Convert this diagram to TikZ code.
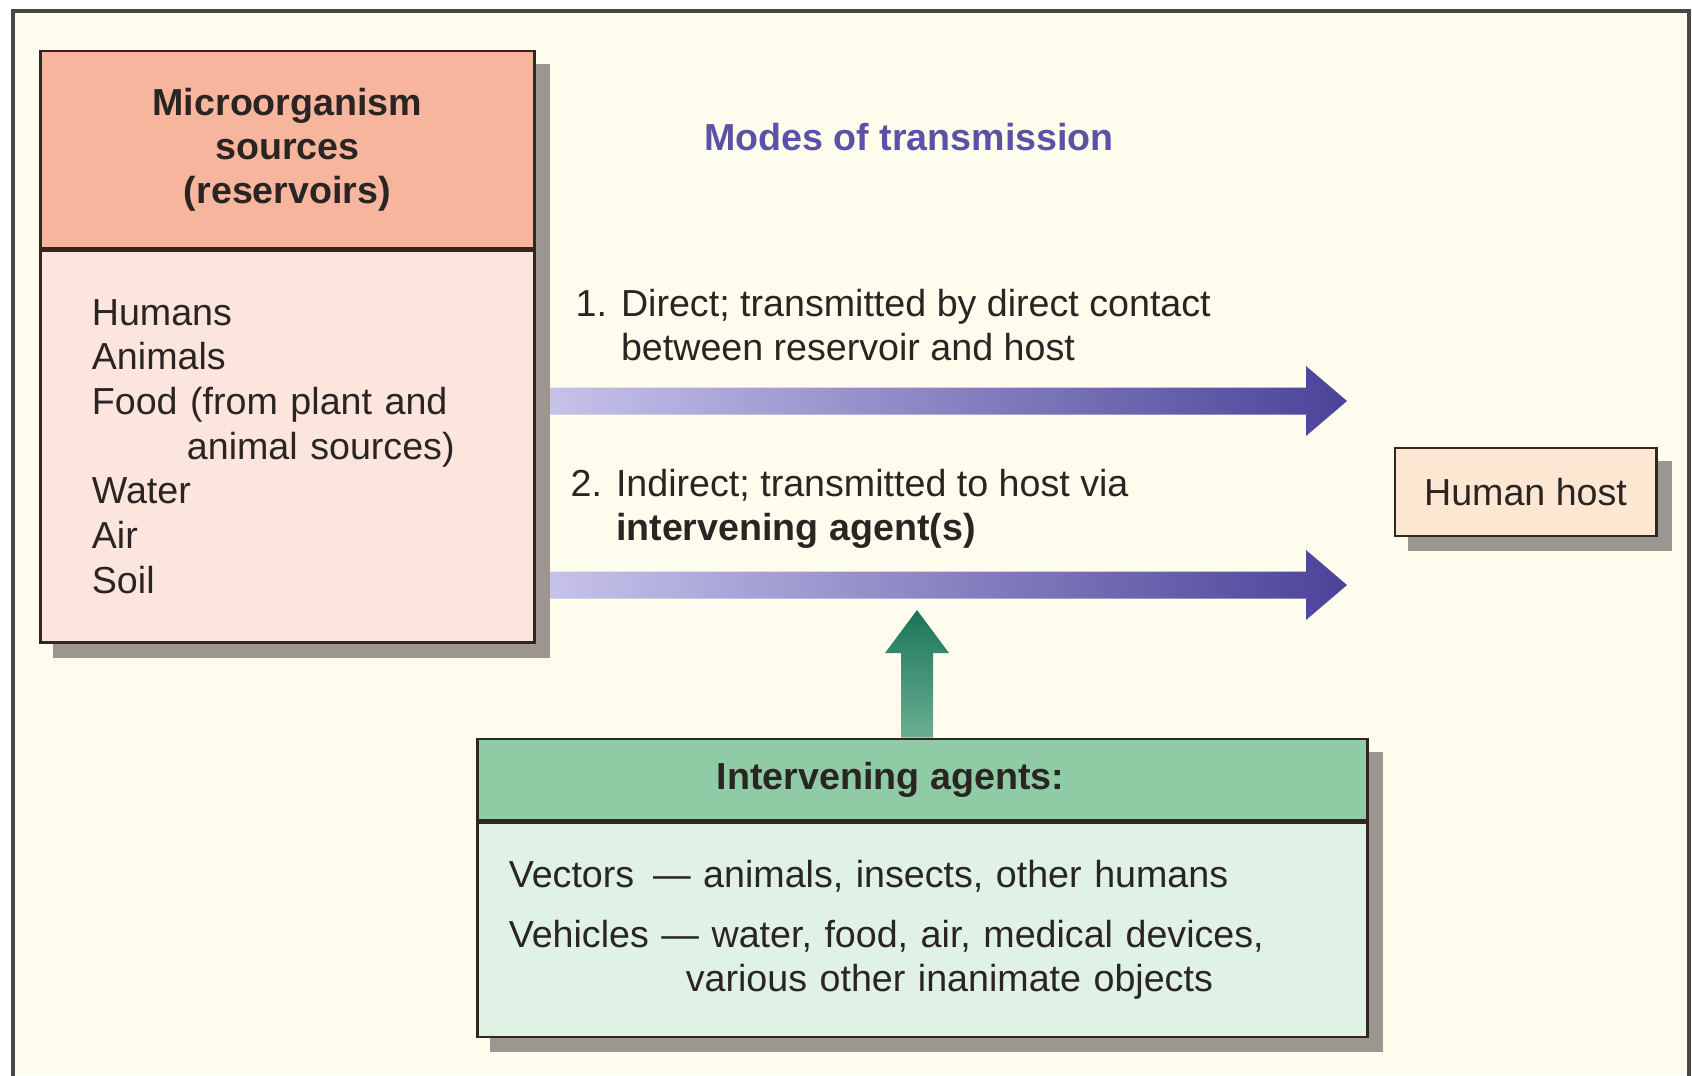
\documentclass[tikz,border=0pt]{standalone}
\usepackage{fontspec}
\setmainfont{Liberation Sans}
\usetikzlibrary{positioning,calc,backgrounds}

\definecolor{paper}{HTML}{FEFCEC}
\definecolor{frameline}{HTML}{4A4744}
\definecolor{boxline}{HTML}{33261F}
\definecolor{textdark}{HTML}{2A2522}
\definecolor{shadowgrey}{HTML}{9D958F}
\definecolor{srctop}{HTML}{F6B59C}
\definecolor{srcfill}{HTML}{FCE5DC}
\definecolor{hostfill}{HTML}{FDE7D3}
\definecolor{agttop}{HTML}{8FCBA5}
\definecolor{agtfill}{HTML}{E0F1E6}
\definecolor{modeblue}{HTML}{5A52A6}
\definecolor{arrowlight}{HTML}{C6C2EA}
\definecolor{arrowdark}{HTML}{4B4399}
\definecolor{greendark}{HTML}{1B7559}
\definecolor{greenlight}{HTML}{6AAF93}

\begin{document}
\begin{tikzpicture}[x=0.01cm, y=-0.01cm,
    every node/.style={font=\fontsize{10.7}{12.5}\selectfont, text=textdark},
    box/.style={draw=boxline, line width=0.8pt, rectangle},
    srchead/.style={box, fill=srctop, minimum width=4.93cm, minimum height=1.97cm,
        align=center, font=\fontsize{10.7}{12.5}\selectfont\bfseries},
    srcbody/.style={box, fill=srcfill, minimum height=3.91cm, inner xsep=0.51cm,
        text width=3.91cm, align=left, font=\fontsize{10.7}{12.7}\selectfont},
    agthead/.style={box, fill=agttop, minimum width=8.89cm, minimum height=0.81cm,
        font=\fontsize{10.7}{12.5}\selectfont\bfseries},
    agtbody/.style={box, fill=agtfill, minimum height=2.14cm, inner xsep=0.31cm,
        text width=8.27cm, align=left},
    hostbox/.style={box, fill=hostfill, minimum width=2.61cm, minimum height=0.88cm},
    modetext/.style={anchor=north west, inner sep=0pt, align=left},
    modearrow/.style={left color=arrowlight, right color=arrowdark},
    agentarrow/.style={top color=greendark, bottom color=greenlight},
    shade box/.style={fill=shadowgrey}
]
\useasboundingbox (0,0) rectangle (1692,1075);

% reservoirs
\node[srchead] (srchd) at (287.5,149.5) {Microorganism\\sources\\(reservoirs)};
\node[srcbody, below=0pt of srchd] (srcbody) {Humans\\Animals\\Food (from plant and\\
    \hspace*{0.95cm}animal sources)\\Water\\Air\\Soil};

% modes
\node[font=\fontsize{10.7}{12.5}\selectfont\bfseries, text=modeblue] (modes) at (909,137) {Modes of transmission};
\node[modetext] (direct) at (575,289) {1. Direct; transmitted by direct contact\\
    \phantom{1. }between reservoir and host};
\node[modetext] (indirect) at (570,469) {2. Indirect; transmitted to host via\\
    \phantom{2. }\textbf{intervening agent(s)}};

\coordinate (s1) at (550,401);
\coordinate (e1) at (1347,401);
\coordinate (s2) at (550,585);
\coordinate (e2) at (1347,585);
\foreach \i in {1,2}
    \path[modearrow] ($(s\i)+(0,-13.5)$) -- ($(e\i)+(-41,-13.5)$) -- ($(e\i)+(-41,-35)$) -- (e\i)
        -- ($(e\i)+(-41,35)$) -- ($(e\i)+(-41,13.5)$) -- ($(s\i)+(0,13.5)$) -- cycle;

% host
\node[hostbox] (host) at (1525.5,492) {Human host};

% intervening agents
\node[agthead] (agthd) at (922.5,779.5) {Intervening agents:\hspace*{0.64cm}};
\node[agtbody, below=0pt of agthd] (agtbody) {Vectors\enspace — animals, insects, other humans\\[4.5pt]
    Vehicles — water, food, air, medical devices,\\
    \hspace*{1.77cm}various other inanimate objects};

\coordinate (gtip) at (917,610);
\coordinate (gbase) at (gtip |- agthd.north);
\path[agentarrow] ($(gbase)+(-16,0)$) -- ($(gtip)+(-16,43)$) -- ($(gtip)+(-32,43)$) -- (gtip)
    -- ($(gtip)+(32,43)$) -- ($(gtip)+(16,43)$) -- ($(gbase)+(16,0)$) -- cycle;

% paper, frame and shadows
\begin{scope}[on background layer]
    \fill[white] (0,0) rectangle (1692,1075);
    \fill[paper] (13,11) rectangle (1689,1075);
    \draw[frameline, line width=0.9pt] (13,1080) -- (13,11) -- (1689,11) -- (1689,1080);
    \fill[shade box] ($(srchd.north east)+(14,14)$) rectangle ($(srcbody.south west)+(14,14)$);
    \fill[shade box] ($(host.north east)+(14,14)$) rectangle ($(host.south west)+(14,14)$);
    \fill[shade box] ($(agthd.north east)+(14,14)$) rectangle ($(agtbody.south west)+(14,14)$);
\end{scope}
\end{tikzpicture}
\end{document}
